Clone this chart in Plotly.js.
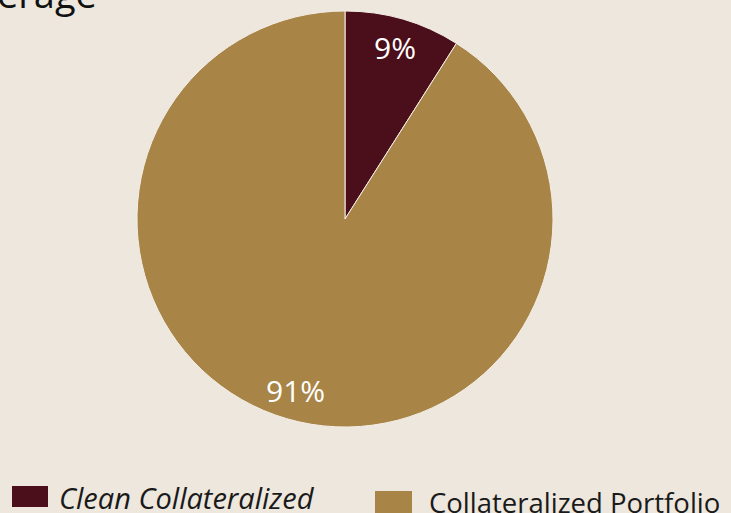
<!DOCTYPE html>
<html><head><meta charset="utf-8">
<script src="https://cdn.plot.ly/plotly-3.0.1.min.js"></script>
<style>html,body{margin:0;padding:0;background:#EDE7DD;}#chart{width:731px;height:513px;}</style>
</head><body><div id="chart"></div>
<script>
const labels = ['Clean Collateralized', 'Collateralized Portfolio'];
const values = [9, 91];
const colors = ['#4A0F1A', '#A88446'];
const legendItalic = [true, false];
const titleText = 'erage';

const W = 731, H = 513;
const FONT = '"Open Sans", "Noto Sans", sans-serif';
const CX = 345, CY = 219, R = 208;

const trace = {
  type: 'pie',
  labels: labels,
  values: values,
  sort: false,
  direction: 'clockwise',
  rotation: 0,
  marker: {colors: colors, line: {color: '#F4EEE6', width: 1}},
  textinfo: 'none',
  domain: {x: [(CX-R)/W, (CX+R)/W], y: [(H-CY-R)/H, (H-CY+R)/H]},
  hoverinfo: 'none',
  showlegend: false
};

const annotations = [];
// slice value labels, placed at each slice's mid-angle
const total = values.reduce((a, b) => a + b, 0);
let cum = 0;
values.forEach((v, i) => {
  const mid = (cum + v / 2) / total * 2 * Math.PI;
  cum += v;
  const px = CX + 0.86 * R * Math.sin(mid);
  const py = CY - 0.86 * R * Math.cos(mid);
  annotations.push({
    xref: 'paper', yref: 'paper', x: px / W, y: 1 - py / H,
    xanchor: 'center', yanchor: 'middle', showarrow: false,
    text: v + '%', font: {size: 30, color: '#FFFFFF', family: FONT}
  });
});

const swatches = [
  {x0: 12, x1: 48, y0: 486, y1: 507, tx: 57, ty: 497, size: 29},
  {x0: 375, x1: 412, y0: 491, y1: 514, tx: 427, ty: 502, size: 27.5}
];
const shapes = swatches.map((s, i) => ({
  type: 'rect', xref: 'paper', yref: 'paper',
  x0: s.x0/W, x1: s.x1/W, y0: 1 - s.y0/H, y1: 1 - s.y1/H,
  fillcolor: colors[i], line: {width: 0}
}));
swatches.forEach((s, i) => annotations.push({
  xref: 'paper', yref: 'paper', x: s.tx/W, y: 1 - s.ty/H,
  xanchor: 'left', yanchor: 'middle', showarrow: false,
  text: legendItalic[i] ? '<i>' + labels[i] + '</i>' : labels[i],
  font: {size: s.size, color: '#1A1A1A', family: FONT}
}));
annotations.push({
  xref: 'paper', yref: 'paper', x: 0, y: 1, xanchor: 'left', yanchor: 'bottom',
  xshift: -5, yshift: -21, showarrow: false, text: titleText,
  font: {size: 38, color: '#111111', family: FONT}
});

Plotly.newPlot('chart', [trace], {
  width: W, height: H,
  margin: {l: 0, r: 0, t: 0, b: 0},
  paper_bgcolor: '#EDE7DD', plot_bgcolor: '#EDE7DD',
  shapes: shapes, annotations: annotations,
  showlegend: false
}, {displayModeBar: false, staticPlot: true});
</script></body></html>
